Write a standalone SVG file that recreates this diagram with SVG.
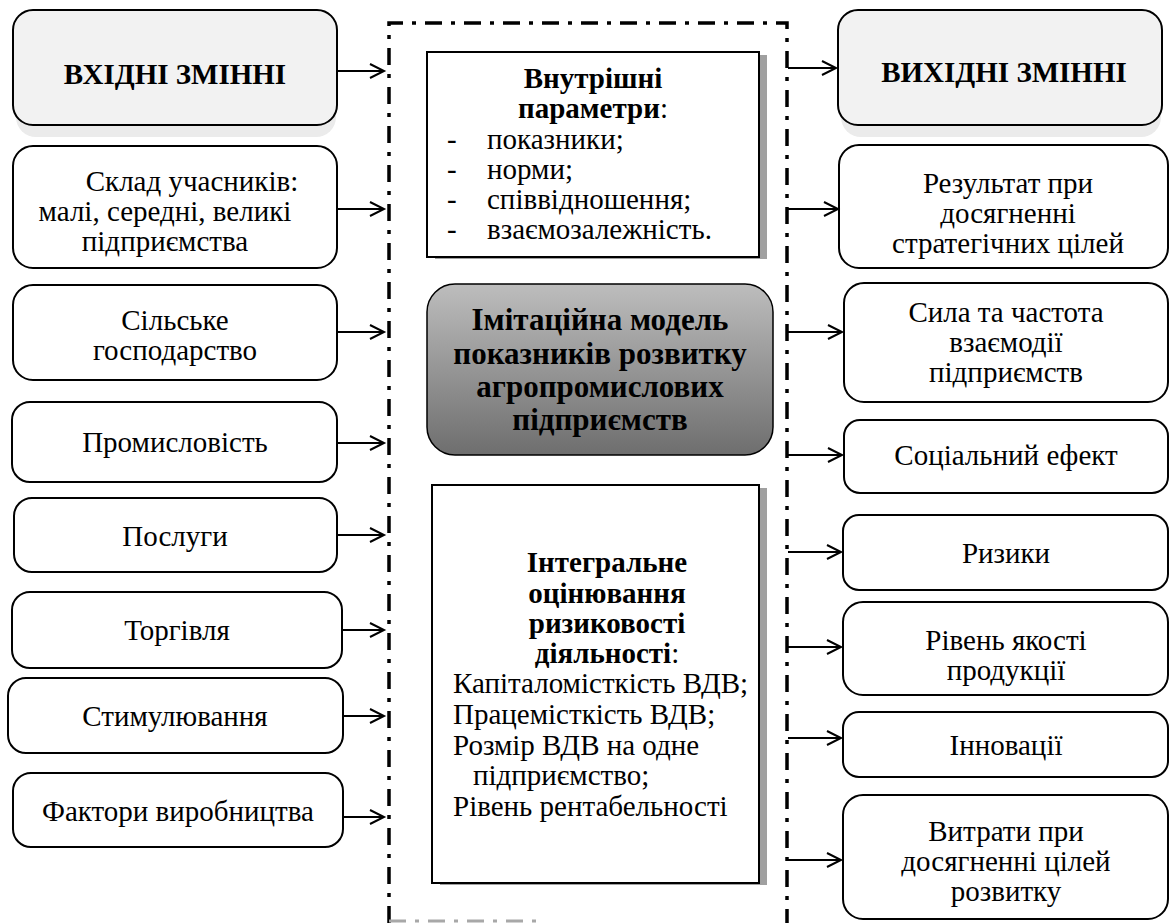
<svg xmlns="http://www.w3.org/2000/svg" width="1170" height="923" viewBox="0 0 1170 923">
<defs>
<style>
.box{fill:#fff;stroke:#000;stroke-width:2}
.hdr{fill:#f2f2f2;stroke:#000;stroke-width:2}
.shd{fill:#ebebeb;stroke:none}
.t{font-family:"Liberation Serif","Tinos","DejaVu Serif","Noto Serif",serif;font-size:29px;fill:#000;text-anchor:middle}
.l{text-anchor:start}
.b{font-weight:bold}
.n{font-weight:normal}
.frame{fill:none;stroke:#000;stroke-width:3.5;stroke-dasharray:17 9 4 9}
.conn line{stroke:#000;stroke-width:2;marker-end:url(#arr)}
</style>
<marker id="arr" markerUnits="userSpaceOnUse" markerWidth="18" markerHeight="18" refX="15" refY="8" orient="auto">
<path d="M1,1 L15,8 L1,15" fill="none" stroke="#000" stroke-width="2"/>
</marker>
<linearGradient id="g" x1="0" y1="0" x2="0" y2="1">
<stop offset="0" stop-color="#bdbdbd"/>
<stop offset="1" stop-color="#6e6e6e"/>
</linearGradient>
</defs>
<rect width="1170" height="923" fill="#fff"/>

<g id="frame">
<path class="frame" d="M389,923 L389,23 L787,23 L787,923"/>
<line x1="389" y1="921" x2="545" y2="921" stroke="#a8a8a8" stroke-width="3" stroke-dasharray="17 9 4 9"/>
</g>

<g id="in-header">
<rect class="shd" x="16" y="20" width="320" height="117" rx="20"/>
<rect class="hdr" x="13" y="10" width="324" height="115" rx="20"/>
<text class="t b" x="175" y="84">ВХІДНІ ЗМІННІ</text>
</g>
<g id="in-sklad">
<rect class="box" x="13" y="146" width="324" height="122" rx="20"/>
<text class="t" x="192" y="191">Склад учасників:</text>
<text class="t" x="165" y="221">малі, середні, великі</text>
<text class="t" x="165" y="251">підприємства</text>
</g>
<g id="in-silske">
<rect class="box" x="13" y="285" width="324" height="95" rx="20"/>
<text class="t" x="175" y="330">Сільське</text>
<text class="t" x="175" y="360">господарство</text>
</g>
<g id="in-prom">
<rect class="box" x="12" y="402" width="325" height="80" rx="18"/>
<text class="t" x="175" y="452">Промисловість</text>
</g>
<g id="in-posl">
<rect class="box" x="14" y="498" width="323" height="74" rx="18"/>
<text class="t" x="175" y="546">Послуги</text>
</g>
<g id="in-torg">
<rect class="box" x="12" y="592" width="330" height="76" rx="18"/>
<text class="t" x="177" y="640">Торгівля</text>
</g>
<g id="in-stym">
<rect class="box" x="8" y="678" width="335" height="75" rx="18"/>
<text class="t" x="175" y="726">Стимулювання</text>
</g>
<g id="in-fakt">
<rect class="box" x="13" y="773" width="330" height="74" rx="18"/>
<text class="t" x="178" y="821">Фактори виробництва</text>
</g>

<g id="c-params">
<rect x="435" y="55" width="332" height="204" fill="#a0a0a0"/>
<rect class="box" x="427" y="52" width="332" height="205"/>
<text class="t b" x="593" y="88">Внутрішні</text>
<text class="t b" x="593" y="118">параметри<tspan class="n">:</tspan></text>
<text class="t l" x="447" y="149">-</text><text class="t l" x="487" y="149">показники;</text>
<text class="t l" x="447" y="179">-</text><text class="t l" x="487" y="179">норми;</text>
<text class="t l" x="447" y="209">-</text><text class="t l" x="487" y="209">співвідношення;</text>
<text class="t l" x="447" y="239">-</text><text class="t l" x="487" y="239">взаємозалежність.</text>
</g>
<g id="c-model">
<rect x="427" y="284" width="346" height="171" rx="28" fill="url(#g)" stroke="#000" stroke-width="1.5"/>
<text class="t b" style="font-size:31px" x="600" y="330">Імітаційна модель</text>
<text class="t b" style="font-size:31px" x="600" y="364">показників розвитку</text>
<text class="t b" style="font-size:31px" x="600" y="397">агропромислових</text>
<text class="t b" style="font-size:31px" x="600" y="430">підприємств</text>
</g>
<g id="c-integral">
<rect x="440" y="488" width="327" height="397" fill="#a0a0a0"/>
<rect class="box" x="432" y="485" width="327" height="398"/>
<text class="t b" x="607" y="572">Інтегральне</text>
<text class="t b" x="607" y="603">оцінювання</text>
<text class="t b" x="607" y="633">ризиковості</text>
<text class="t b" x="607" y="663">діяльності<tspan class="n">:</tspan></text>
<text class="t l" x="453" y="693">Капіталомісткість ВДВ;</text>
<text class="t l" x="453" y="724">Працемісткість ВДВ;</text>
<text class="t l" x="453" y="755">Розмір ВДВ на одне</text>
<text class="t l" x="473" y="785">підприємство;</text>
<text class="t l" x="453" y="816">Рівень рентабельності</text>
</g>

<g id="out-header">
<rect class="shd" x="841" y="20" width="320" height="117" rx="20"/>
<rect class="hdr" x="838" y="10" width="324" height="115" rx="20"/>
<text class="t b" x="1004" y="82">ВИХІДНІ ЗМІННІ</text>
</g>
<g id="out-result">
<rect class="box" x="839" y="145" width="329" height="123" rx="20"/>
<text class="t" x="1008" y="193">Результат при</text>
<text class="t" x="1008" y="223">досягненні</text>
<text class="t" x="1008" y="253">стратегічних цілей</text>
</g>
<g id="out-syla">
<rect class="box" x="844" y="283" width="324" height="119" rx="20"/>
<text class="t" x="1006" y="322">Сила та частота</text>
<text class="t" x="1006" y="352">взаємодії</text>
<text class="t" x="1006" y="382">підприємств</text>
</g>
<g id="out-social">
<rect class="box" x="844" y="420" width="324" height="73" rx="16"/>
<text class="t" x="1006" y="465">Соціальний ефект</text>
</g>
<g id="out-ryzyky">
<rect class="box" x="843" y="515" width="325" height="75" rx="16"/>
<text class="t" x="1006" y="563">Ризики</text>
</g>
<g id="out-yakist">
<rect class="box" x="843" y="602" width="325" height="93" rx="20"/>
<text class="t" x="1006" y="650">Рівень якості</text>
<text class="t" x="1006" y="680">продукції</text>
</g>
<g id="out-innov">
<rect class="box" x="843" y="712" width="325" height="65" rx="16"/>
<text class="t" x="1006" y="755">Інновації</text>
</g>
<g id="out-vytraty">
<rect class="box" x="843" y="795" width="325" height="124" rx="20"/>
<text class="t" x="1006" y="841">Витрати при</text>
<text class="t" x="1006" y="871">досягненні цілей</text>
<text class="t" x="1006" y="901">розвитку</text>
</g>

<g id="connectors" class="conn">
<line x1="337" y1="71" x2="384" y2="71"/>
<line x1="337" y1="209" x2="384" y2="209"/>
<line x1="337" y1="332" x2="384" y2="332"/>
<line x1="337" y1="443" x2="384" y2="443"/>
<line x1="337" y1="535" x2="384" y2="535"/>
<line x1="342" y1="630" x2="384" y2="630"/>
<line x1="343" y1="716" x2="384" y2="716"/>
<line x1="343" y1="817" x2="384" y2="817"/>
<line x1="788" y1="68" x2="836" y2="68"/>
<line x1="788" y1="209" x2="838" y2="209"/>
<line x1="788" y1="332" x2="842" y2="332"/>
<line x1="788" y1="455" x2="842" y2="455"/>
<line x1="788" y1="552" x2="841" y2="552"/>
<line x1="788" y1="647" x2="841" y2="647"/>
<line x1="788" y1="738" x2="841" y2="738"/>
<line x1="788" y1="860" x2="841" y2="860"/>
</g>
</svg>
